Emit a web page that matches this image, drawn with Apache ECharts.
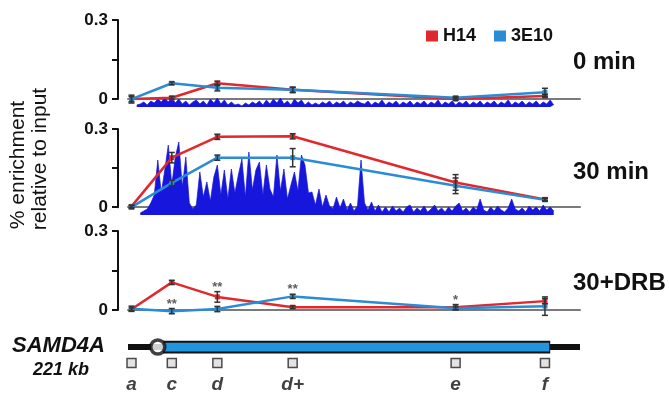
<!DOCTYPE html>
<html>
<head>
<meta charset="utf-8">
<script src="https://cdn.jsdelivr.net/npm/echarts@6/dist/echarts.min.js"></script>
<style>
html, body { margin: 0; padding: 0; background: #fff; }
#main { width: 669px; height: 404px; }
</style>
</head>
<body>
<div id="main"></div>
<script>
// primer positions along SAMD4A (kb from start of the drawn region)
const primers = ['a', 'c', 'd', 'd+', 'e', 'f'];
const primerKb = [2, 25, 51, 94, 187, 238];

// gene model (kb)
const geneLine = [0, 258];
const geneBody = [20, 241];
const geneTss = 17;

// % enrichment relative to input, one array per panel and antibody
const h14_0 = [0.0, 0.005, 0.06, 0.035, 0.0, 0.012];
const e310_0 = [0.0, 0.06, 0.043, 0.035, 0.005, 0.026];
const h14_0err = [0.01, 0.005, 0.008, 0.01, 0.005, 0.006];
const e310_0err = [0.015, 0.005, 0.012, 0.01, 0.005, 0.015];

const h14_30 = [0.003, 0.19, 0.27, 0.272, 0.095, 0.03];
const e310_30 = [0.0, 0.093, 0.19, 0.19, 0.082, 0.028];
const h14_30err = [0.005, 0.02, 0.01, 0.01, 0.03, 0.006];
const e310_30err = [0.006, 0.01, 0.01, 0.035, 0.03, 0.005];

const h14_drb = [0.003, 0.105, 0.05, 0.011, 0.011, 0.034];
const e310_drb = [0.005, -0.004, 0.004, 0.052, 0.007, 0.015];
const h14_drbErr = [0.005, 0.008, 0.02, 0.005, 0.01, 0.01];
const e310_drbErr = [0.01, 0.01, 0.01, 0.008, 0.005, 0.035];

// significance marks for 30+DRB and the series they sit on
const drbStars = ['', '**', '**', '**', '*', ''];
const drbStarOn = ['', '3E10', 'H14', '3E10', 'H14', ''];

// sequencing track (signal), bins of 2 kb
const trackStep = 2;
const track0Start = 5;
const track0 = [2, 3, 5, 2, 6, 4, 8, 5, 9, 5, 10, 4, 8, 3, 6, 2, 5, 7, 3, 6,
  2, 8, 4, 9, 3, 7, 2, 5, 2, 3, 1, 4, 2, 5, 3, 6, 2, 7, 3, 8,
  4, 9, 3, 6, 2, 8, 4, 7, 2, 5, 2, 4, 2, 5, 3, 6, 2, 5, 3, 6,
  2, 5, 3, 6, 4, 3, 6, 2, 5, 3, 7, 2, 5, 3, 6, 2, 5, 3, 6, 2,
  5, 3, 6, 2, 5, 3, 7, 2, 5, 3, 6, 2, 5, 3, 6, 2, 5, 3, 6, 2,
  5, 3, 6, 2, 5, 3, 7, 2, 5, 3, 6, 2, 5, 3, 6, 2, 5, 3, 7, 2];
const track30Start = 7;
const track30 = [2, 4, 6, 12, 20, 55, 22, 45, 70, 30, 58, 73, 28, 58, 12, 6, 10, 43, 18, 33,
  14, 38, 50, 20, 45, 16, 46, 22, 40, 56, 18, 63, 25, 45, 53, 20, 50, 26, 18, 60,
  24, 46, 16, 30, 43, 24, 60, 50, 22, 23, 10, 26, 8, 20, 9, 6, 18, 7, 16, 5,
  12, 4, 9, 55, 12, 5, 13, 4, 10, 3, 8, 3, 9, 4, 7, 3, 8, 10, 3, 7,
  4, 9, 3, 6, 10, 4, 7, 3, 8, 4, 9, 12, 4, 7, 3, 8, 5, 16, 5, 3,
  8, 4, 9, 5, 3, 7, 16, 6, 4, 7, 3, 9, 5, 8, 4, 10, 5, 8, 4];

const RED = '#e2282c';
const BLUE = '#2a8cd6';
const TRACK = '#1616dc';
const FONT = '"Liberation Sans", Arial, sans-serif';

const pts = vals => primerKb.map((x, i) => [x, vals[i]]);
const bins = (start, arr) => arr.map((v, i) => [start + i * trackStep, v]);

const chart = echarts.init(document.getElementById('main'));

// panel layout: top of 0.3 line, height down to baseline
const panels = [
  { top: 20, height: 87 },
  { top: 129, height: 86 },
  { top: 231, height: 87 }
];
const yMin = -0.03, yMax = 0.3;

const grids = [], xAxes = [], yAxes = [];
panels.forEach(p => {
  grids.push({ left: 128, width: 452, top: p.top, height: p.height });
});
panels.forEach(p => {
  // bracket axis grid covers 0..0.3 only, sits a little left of the baseline
  const h = p.height * (yMax / (yMax - yMin));
  grids.push({ left: 118, width: 462, top: p.top, height: h });
});
grids.push({ left: 128, width: 452, top: 347, height: 16 });

for (let i = 0; i < 3; i++) {
  xAxes.push({
    gridIndex: i, type: 'value', min: 0, max: 258,
    axisLine: { show: true, lineStyle: { color: '#7a7a7a', width: 2 } },
    axisTick: { show: false }, axisLabel: { show: false }, splitLine: { show: false }
  });
  yAxes.push({ gridIndex: i, type: 'value', min: yMin, max: yMax, show: false });
}
for (let i = 0; i < 2; i++) {
  yAxes.push({ gridIndex: i, type: 'value', min: 0, max: panels[i].height, show: false });
}
for (let i = 0; i < 3; i++) {
  xAxes.push({ gridIndex: 3 + i, type: 'value', min: 0, max: 1, show: false });
  yAxes.push({
    gridIndex: 3 + i, type: 'value', min: 0, max: 0.3, interval: 0.15,
    axisLine: { show: true, lineStyle: { color: '#111', width: 2 } },
    axisTick: { show: true, length: 6, lineStyle: { color: '#111', width: 2 } },
    axisLabel: {
      margin: 10, color: '#111', fontSize: 17, fontWeight: 'bold', fontFamily: FONT,
      formatter: v => (Math.abs(v - 0.15) < 1e-6 ? '' : String(+v.toFixed(2)))
    },
    splitLine: { show: false }
  });
}
xAxes.push({ gridIndex: 6, type: 'value', min: 0, max: 258, show: false });
yAxes.push({ gridIndex: 6, type: 'value', min: 0, max: 1, show: false });

function lineSeries(name, vals, idx, color) {
  return {
    name: name, type: 'line', xAxisIndex: idx, yAxisIndex: idx,
    data: pts(vals), clip: false, z: 3,
    symbol: 'rect', symbolSize: 5,
    itemStyle: { color: color },
    lineStyle: { color: color, width: 2.5 }
  };
}

function errSeries(vals, errs, idx) {
  return {
    type: 'custom', xAxisIndex: idx, yAxisIndex: idx, z: 4, silent: true,
    data: primerKb.map((x, i) => [x, vals[i], errs[i]]),
    renderItem: function (params, api) {
      const x = api.value(0), y = api.value(1), e = api.value(2);
      const hi = api.coord([x, y + e]);
      const lo = api.coord([x, y - e]);
      const st = { stroke: '#333', lineWidth: 1.5 };
      return {
        type: 'group', children: [
          { type: 'line', shape: { x1: hi[0], y1: hi[1], x2: lo[0], y2: lo[1] }, style: st },
          { type: 'line', shape: { x1: hi[0] - 3, y1: hi[1], x2: hi[0] + 3, y2: hi[1] }, style: st },
          { type: 'line', shape: { x1: lo[0] - 3, y1: lo[1], x2: lo[0] + 3, y2: lo[1] }, style: st }
        ]
      };
    }
  };
}

function trackSeries(data, idx) {
  return {
    type: 'line', xAxisIndex: idx, yAxisIndex: 3 + idx, data: data, z: 1, silent: true,
    symbol: 'none', lineStyle: { color: TRACK, width: 0.7 },
    areaStyle: { color: TRACK, opacity: 1 }
  };
}

const series = [
  trackSeries(bins(track0Start, track0), 0),
  trackSeries(bins(track30Start, track30), 1),

  lineSeries('H14', h14_0, 0, RED),
  lineSeries('3E10', e310_0, 0, BLUE),
  errSeries(h14_0, h14_0err, 0),
  errSeries(e310_0, e310_0err, 0),

  lineSeries('H14', h14_30, 1, RED),
  lineSeries('3E10', e310_30, 1, BLUE),
  errSeries(h14_30, h14_30err, 1),
  errSeries(e310_30, e310_30err, 1),

  lineSeries('H14', h14_drb, 2, RED),
  lineSeries('3E10', e310_drb, 2, BLUE),
  errSeries(h14_drb, h14_drbErr, 2),
  errSeries(e310_drb, e310_drbErr, 2),

  {
    type: 'scatter', xAxisIndex: 2, yAxisIndex: 2, symbolSize: 0, z: 5, silent: true,
    data: primerKb.map((x, i) => {
      if (!drbStars[i]) return null;
      const top = drbStarOn[i] === 'H14' ? h14_drb[i] + h14_drbErr[i] : e310_drb[i] + e310_drbErr[i];
      return { value: [x, top], label: { formatter: drbStars[i] } };
    }).filter(d => d),
    label: {
      show: true, position: 'top', distance: -2, color: '#333',
      fontSize: 13, fontWeight: 'bold', fontFamily: FONT
    }
  },

  // gene model
  {
    type: 'line', xAxisIndex: 6, yAxisIndex: 8, silent: true, symbol: 'none', z: 1,
    data: [[geneLine[0], 1], [geneLine[1], 1]],
    lineStyle: { color: '#111', width: 6, cap: 'butt' }
  },
  {
    type: 'line', xAxisIndex: 6, yAxisIndex: 8, silent: true, symbol: 'none', z: 2,
    data: [[geneBody[0], 1], [geneBody[1], 1]],
    lineStyle: { color: '#111', width: 13, cap: 'butt' }
  },
  {
    type: 'line', xAxisIndex: 6, yAxisIndex: 8, silent: true, symbol: 'none', z: 3,
    data: [[geneBody[0] + 0.6, 1], [geneBody[1] - 0.6, 1]],
    lineStyle: { color: '#2196de', width: 9, cap: 'butt' }
  },
  {
    type: 'scatter', xAxisIndex: 6, yAxisIndex: 8, silent: true, z: 4,
    data: [[geneTss, 1]], symbol: 'circle', symbolSize: 14,
    itemStyle: { color: '#fff', borderColor: '#111', borderWidth: 3.5 }
  },
  {
    type: 'scatter', xAxisIndex: 6, yAxisIndex: 8, silent: true, z: 4,
    data: primerKb.map((x, i) => ({ value: [x, 0], name: primers[i] })),
    symbol: 'rect', symbolSize: 9,
    itemStyle: { color: '#dcdcdc', borderColor: '#222', borderWidth: 1.5 },
    label: {
      show: true, position: 'bottom', distance: 7, formatter: '{b}',
      color: '#111', fontSize: 19, fontWeight: 'bold', fontStyle: 'italic', fontFamily: FONT
    }
  }
];

chart.setOption({
  backgroundColor: '#fff',
  animation: false,
  grid: grids,
  xAxis: xAxes,
  yAxis: yAxes,
  legend: {
    data: ['H14', '3E10'], left: 421, top: 22, icon: 'rect',
    itemWidth: 12, itemHeight: 11, itemGap: 18, selectedMode: false,
    textStyle: { fontSize: 18, fontWeight: 'bold', color: '#111', fontFamily: FONT }
  },
  graphic: [
    { type: 'text', left: 573, top: 50, style: { text: '0 min', font: 'bold 24px ' + FONT, fill: '#111' } },
    { type: 'text', left: 573, top: 160, style: { text: '30 min', font: 'bold 24px ' + FONT, fill: '#111' } },
    { type: 'text', left: 573, top: 271, style: { text: '30+DRB', font: 'bold 24px ' + FONT, fill: '#111' } },
    {
      type: 'text', x: 18, y: 165, rotation: Math.PI / 2,
      style: { text: '% enrichment', font: '21px ' + FONT, fill: '#111', align: 'center', verticalAlign: 'middle' }
    },
    {
      type: 'text', x: 40, y: 159, rotation: Math.PI / 2,
      style: { text: 'relative to input', font: '21px ' + FONT, fill: '#111', align: 'center', verticalAlign: 'middle' }
    },
    { type: 'text', left: 12, top: 335, style: { text: 'SAMD4A', font: 'italic bold 22px ' + FONT, fill: '#111' } },
    { type: 'text', left: 33, top: 361, style: { text: '221 kb', font: 'italic bold 18px ' + FONT, fill: '#111' } }
  ],
  series: series
});
</script>
</body>
</html>
